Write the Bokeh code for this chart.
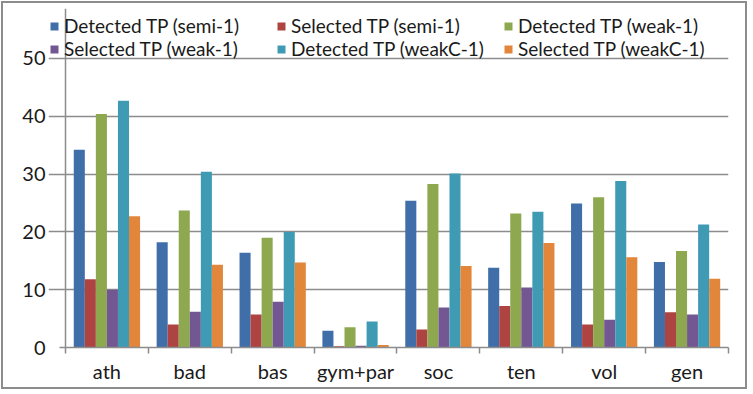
from bokeh.plotting import figure
from bokeh.models import (ColumnDataSource, FixedTicker, Legend, LegendItem,
                          Range1d)
from bokeh.transform import dodge
from bokeh.embed import file_html
from bokeh.resources import INLINE

# Categories and per-series values
categories = ["ath", "bad", "bas", "gym+par", "soc", "ten", "vol", "gen"]
series_names = [
    "Detected TP (semi-1)", "Selected TP (semi-1)", "Detected TP (weak-1)",
    "Selected TP (weak-1)", "Detected TP (weakC-1)", "Selected TP (weakC-1)",
]
detected_semi = [34.2, 18.2, 16.4, 2.9, 25.4, 13.8, 24.9, 14.8]
selected_semi = [11.8, 4.0, 5.7, 0.2, 3.1, 7.2, 4.0, 6.1]
detected_weak = [40.4, 23.7, 19.0, 3.5, 28.3, 23.2, 26.0, 16.7]
selected_weak = [10.0, 6.2, 7.9, 0.3, 6.9, 10.4, 4.8, 5.7]
detected_weakc = [42.7, 30.4, 20.0, 4.5, 30.1, 23.5, 28.8, 21.3]
selected_weakc = [22.7, 14.3, 14.7, 0.45, 14.1, 18.1, 15.6, 11.9]
y_ticks = [0, 10, 20, 30, 40, 50]
y_max = 50

colors = ["#3F6EA8", "#AD4441", "#8DA84E", "#735793", "#3F9BB4", "#E2863B"]
FONT = "Lato"
TEXT = "#1a1a1a"
GRID = "#8c8c8c"

series = [detected_semi, selected_semi, detected_weak,
          selected_weak, detected_weakc, selected_weakc]
n = len(categories)

centers = [i + 0.5 for i in range(n)]
data = {"x": centers}
for k, vals in enumerate(series):
    data[f"s{k}"] = vals
source = ColumnDataSource(data)

# The frame also holds the legend strip above the value axis and a small
# margin to the left of it, so the ranges reach a little past the data.
left_pad = 0.2048      # legend starts this far left of the value axis
tick_len = 0.072       # tick stubs left of the value axis
top_room = 58.65       # headroom above 50 for the legend rows

p = figure(width=746, height=388, output_backend="svg", toolbar_location=None,
           x_range=Range1d(-left_pad, n), y_range=Range1d(0, top_room),
           min_border_left=45, min_border_right=21,
           min_border_top=5, min_border_bottom=44,
           outline_line_color=None,
           styles={"border": "2px solid #8c8c8c", "margin-left": "1px",
                   "margin-top": "1px"})

bar_w = 0.1333
renderers = []
for k in range(len(series)):
    off = (k - 2.5) * bar_w
    r = p.vbar(x=dodge("x", off, range=p.x_range), top=f"s{k}", width=bar_w,
               bottom=0, source=source, fill_color=colors[k], line_color=None)
    renderers.append(r)

# Category axis: labels centred on each group, ticks on group boundaries
xa = p.xaxis[0]
xa.ticker = FixedTicker(ticks=centers, minor_ticks=list(range(n + 1)))
xa.major_label_overrides = {c: name for c, name in zip(centers, categories)}
xa.bounds = (-tick_len, n)
xa.major_tick_line_color = None
xa.minor_tick_in = 0
xa.minor_tick_out = 6
xa.minor_tick_line_color = GRID
xa.minor_tick_line_width = 1.5
xa.axis_line_color = GRID
xa.axis_line_width = 1.5
xa.major_label_standoff = 5
xa.major_label_text_font = FONT
xa.major_label_text_font_size = "20px"
xa.major_label_text_color = TEXT

# Value axis: labels only; its line and ticks come from the grids below
ya = p.yaxis[0]
ya.ticker = FixedTicker(ticks=y_ticks)
ya.axis_line_color = None
ya.major_tick_line_color = None
ya.major_tick_out = 0
ya.minor_tick_line_color = None
ya.major_label_standoff = 3
ya.major_label_text_font = FONT
ya.major_label_text_font_size = "20px"
ya.major_label_text_color = TEXT

p.ygrid.ticker = FixedTicker(ticks=y_ticks)
p.ygrid.bounds = (-tick_len, n)
p.ygrid.grid_line_color = GRID
p.ygrid.grid_line_width = 1.5

p.xgrid.ticker = FixedTicker(ticks=[0])
p.xgrid.bounds = (0, y_max)
p.xgrid.grid_line_color = GRID
p.xgrid.grid_line_width = 1.5

# Legend: three columns of two entries each
col_x = [1, 228, 455]
for c in range(3):
    items = [LegendItem(label=series_names[c + 3 * j],
                        renderers=[renderers[c + 3 * j]]) for j in range(2)]
    leg = Legend(items=items, location=(col_x[c], 287), orientation="vertical",
                 border_line_color=None, background_fill_alpha=0,
                 padding=0, margin=0, spacing=0,
                 glyph_width=10, glyph_height=10, label_standoff=5,
                 label_text_font=FONT, label_text_font_size="19px",
                 label_text_color=TEXT, label_height=23)
    p.add_layout(leg, "center")

open("out.html", "w").write(file_html(p, INLINE))
